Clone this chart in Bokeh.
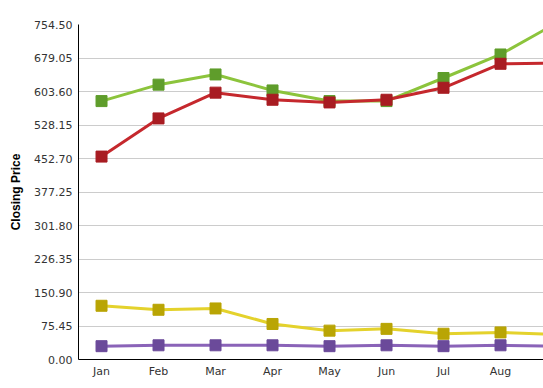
from bokeh.plotting import figure
from bokeh.models import Range1d, FixedTicker, NumeralTickFormatter
from bokeh.embed import file_html
from bokeh.resources import INLINE

months = ["Jan", "Feb", "Mar", "Apr", "May", "Jun", "Jul", "Aug", "Sep"]
month_idx = list(range(len(months)))

green_vals = [582, 619, 642, 606, 582, 582, 634, 687, 759]
red_vals = [457, 543, 601, 585, 579, 585, 612, 666, 668]
yellow_vals = [121, 112, 115, 80, 65, 69, 58, 61, 56]
purple_vals = [30, 32, 32, 32, 30, 32, 30, 32, 30]

y_ticks = [0.0, 75.45, 150.90, 226.35, 301.80, 377.25, 452.70, 528.15, 603.60, 679.05, 754.50]

series = [
    (green_vals, "#8cc43c", "#5f9d2b"),
    (red_vals, "#c5282d", "#a81c22"),
    (yellow_vals, "#e4d22c", "#b9a504"),
    (purple_vals, "#8a63b8", "#6b4a9a"),
]

p = figure(width=543, height=388, output_backend="svg", toolbar_location=None,
           x_range=Range1d(-0.404, 7.754), y_range=Range1d(0, 754.5),
           min_border_left=78, min_border_right=0, min_border_top=24,
           min_border_bottom=29)
p.outline_line_color = None
p.background_fill_color = "white"
p.border_fill_color = "white"

for vals, lc, mc in series:
    p.line(month_idx, vals, line_color=lc, line_width=3)
    p.scatter(month_idx, vals, marker="square", size=11, fill_color=mc, line_color=mc)

p.xgrid.visible = False
p.ygrid.grid_line_color = "#cccccc"
p.ygrid.grid_line_width = 1

p.yaxis.ticker = FixedTicker(ticks=y_ticks)
p.yaxis.formatter = NumeralTickFormatter(format="0.00")
p.xaxis.ticker = FixedTicker(ticks=month_idx)
p.xaxis.major_label_overrides = {i: m for i, m in enumerate(months)}

for ax in (p.xaxis, p.yaxis):
    ax.axis_line_color = "black"
    ax.axis_line_width = 1
    ax.major_tick_line_color = None
    ax.minor_tick_line_color = None
    ax.major_tick_out = 0
    ax.major_tick_in = 0
    ax.major_label_text_font = "DejaVu Sans"
    ax.major_label_text_font_size = "11px"
    ax.major_label_text_color = "#333333"

p.yaxis.major_label_standoff = 6
p.xaxis.major_label_standoff = 5
p.yaxis.axis_label = "Closing Price"
p.yaxis.axis_label_text_font = "Liberation Sans"
p.yaxis.axis_label_text_font_style = "bold"
p.yaxis.axis_label_text_font_size = "12px"
p.yaxis.axis_label_text_color = "black"
p.yaxis.axis_label_standoff = 8

open("out.html", "w").write(file_html(p, INLINE))
